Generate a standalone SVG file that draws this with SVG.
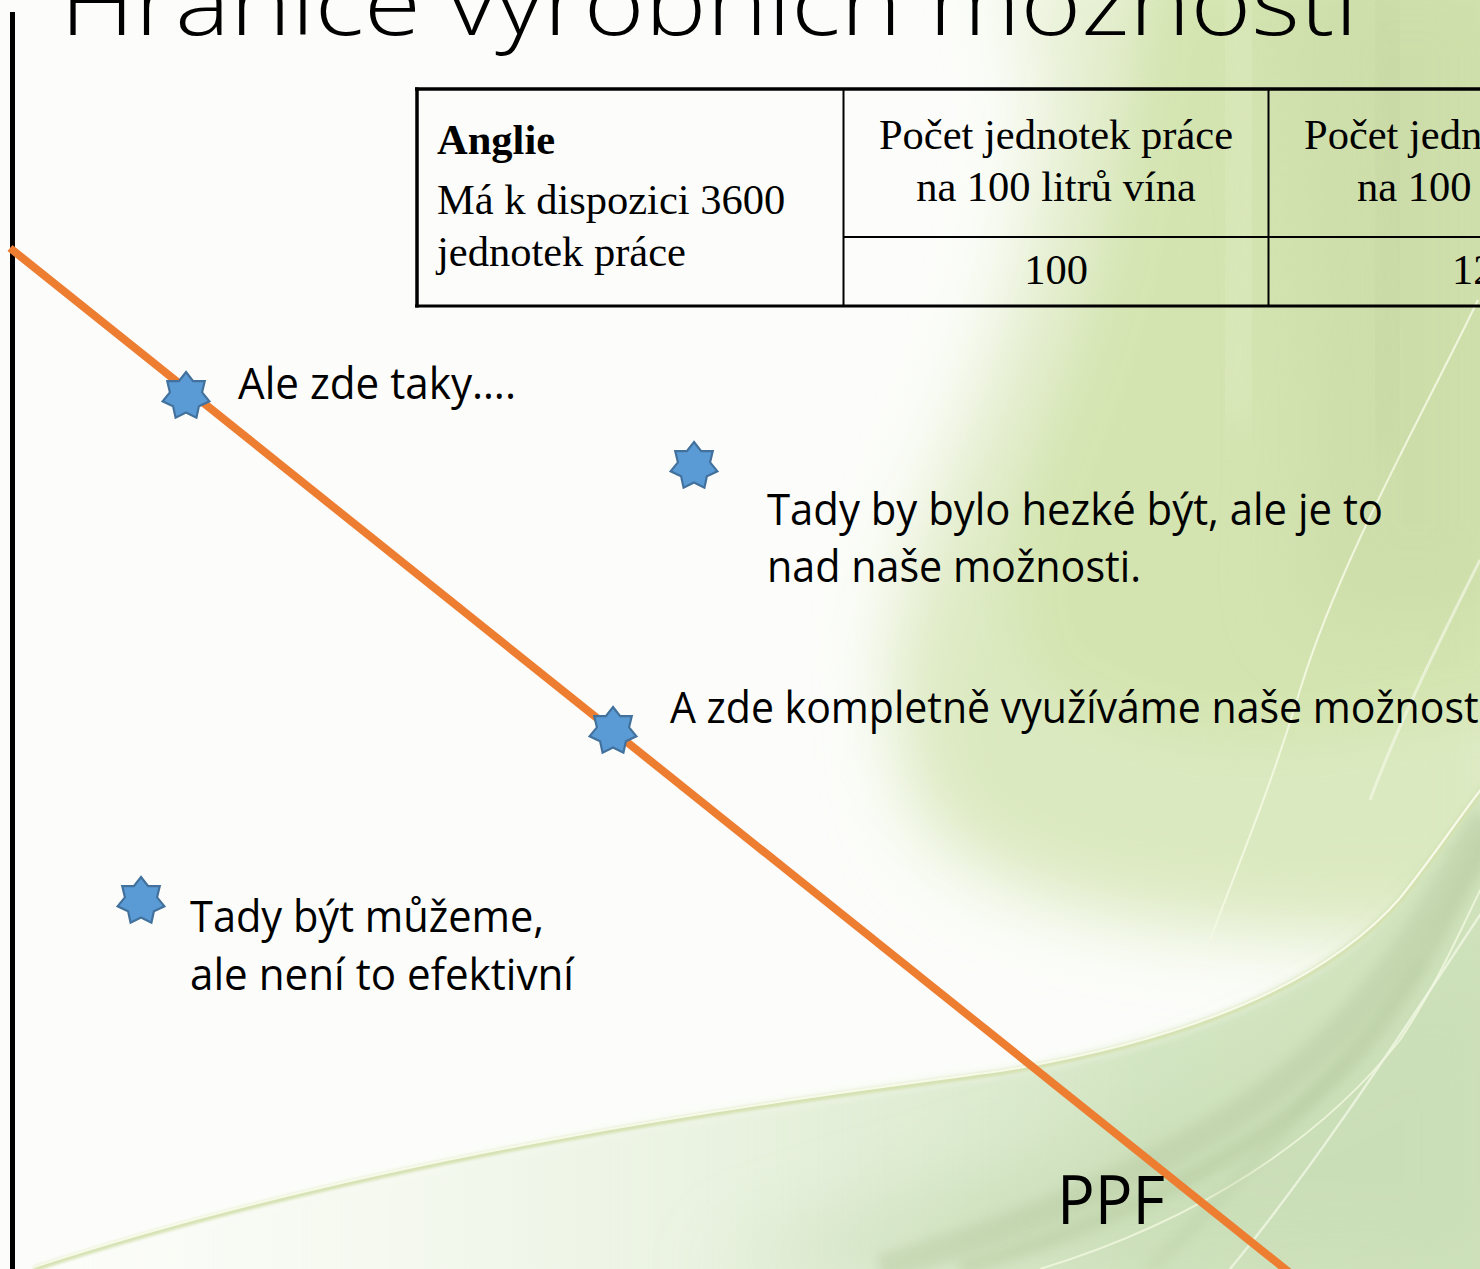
<svg xmlns="http://www.w3.org/2000/svg" xmlns:xlink="http://www.w3.org/1999/xlink" width="1480" height="1269" viewBox="0 0 1480 1269">
  <style>
    .title { font-family: "Open Sans", "Liberation Sans", sans-serif; font-weight: 300; font-size: 90px; fill: #000; }
    .tbl { font-family: "Liberation Serif", "Times New Roman", serif; font-size: 42.5px; fill: #000; }
    .tb { font-weight: bold; }
    .lbl { font-family: "Open Sans", "Liberation Sans", sans-serif; font-size: 44px; fill: #000; }
    .grid { stroke: #000; fill: none; }
    .star { fill: #5B9BD5; stroke: #41719C; stroke-width: 2.2; stroke-linejoin: miter; }
  </style>
  <defs>
    <filter id="blur40" x="-30%" y="-30%" width="160%" height="160%"><feGaussianBlur stdDeviation="40"/></filter>
    <filter id="blur20" x="-30%" y="-30%" width="160%" height="160%"><feGaussianBlur stdDeviation="20"/></filter>
    <filter id="blur6" x="-30%" y="-30%" width="160%" height="160%"><feGaussianBlur stdDeviation="6"/></filter>
    <filter id="blur2" x="-10%" y="-10%" width="120%" height="120%"><feGaussianBlur stdDeviation="1.5"/></filter>
    <linearGradient id="bottomG" x1="0" y1="0" x2="1" y2="0">
      <stop offset="0" stop-color="#eef5e4" stop-opacity="0"/>
      <stop offset="0.45" stop-color="#e2eed6" stop-opacity="0.7"/>
      <stop offset="0.75" stop-color="#d3e5c2" stop-opacity="1"/>
      <stop offset="1" stop-color="#cfe2bb" stop-opacity="1"/>
    </linearGradient>
    <polygon id="star7" points="0,-24 7.16,-14.87 18.76,-14.96 16.09,-3.67 23.4,5.34 12.9,10.29 10.41,21.62 0,16.5 -10.41,21.62 -12.9,10.29 -23.4,5.34 -16.09,-3.67 -18.76,-14.96 -7.16,-14.87"/>
  </defs>

  <!-- background -->
  <g id="background">
    <rect x="0" y="0" width="1480" height="1269" fill="#fcfdfa"/>
    <path d="M1000 -40 C1060 60 1040 200 980 380 C920 520 880 600 900 700 C960 850 1200 900 1520 900 L1520 -40 Z" fill="#e6efd2" filter="url(#blur40)"/>
    <path d="M1140 -40 C1110 200 1040 400 960 560 C900 690 890 780 940 840 C1050 930 1250 940 1520 930 L1520 -40 Z" fill="#dbe9c0" filter="url(#blur40)"/>
    <path d="M1150 -40 C1140 150 1110 300 1060 420 C1020 520 1000 600 1040 680 C1150 760 1300 760 1520 700 L1520 -40 Z" fill="#d3e4ae" filter="url(#blur20)" opacity="0.8"/>
    <path d="M1280 -40 C1300 200 1320 400 1300 620 L1520 620 L1520 -40 Z" fill="#c9daa6" filter="url(#blur40)" opacity="0.6"/>
    <path d="M34 1269 C400 1150 800 1100 1000 1073 C1200 1040 1330 980 1400 900 C1440 850 1465 810 1490 780 L1520 1300 L30 1300 Z" fill="url(#bottomG)" filter="url(#blur6)"/>
    <path d="M700 1269 C900 1200 1100 1150 1300 1060 C1400 1010 1460 950 1500 900 L1500 1280 Z" fill="#c7dcb5" filter="url(#blur40)" opacity="0.7"/>
    <!-- swirl bands -->
    <path d="M880 1269 C1080 1210 1240 1130 1330 1040 C1400 970 1445 890 1485 820" fill="none" stroke="#b7c9a0" stroke-width="28" opacity="0.45" filter="url(#blur6)"/>
    <path d="M960 1269 C1140 1215 1280 1140 1360 1050 C1420 980 1455 900 1490 840" fill="none" stroke="#b3c69a" stroke-width="16" opacity="0.45" filter="url(#blur6)"/>
    <path d="M1040 1269 C1200 1220 1320 1140 1400 1040 C1440 980 1465 920 1490 870" fill="none" stroke="#eef6dc" stroke-width="2" opacity="0.9"/>
    <path d="M1230 1269 C1320 1160 1410 1020 1490 900" fill="none" stroke="#f0f6e2" stroke-width="2.5" opacity="0.8"/>
    <path d="M1150 1269 C1250 1170 1350 1060 1420 960" fill="none" stroke="#b9cda2" stroke-width="12" opacity="0.4" filter="url(#blur6)"/>
    <!-- highlight curve -->
    <path d="M34 1269 C400 1150 800 1100 1000 1073 C1200 1040 1330 980 1400 900 C1440 850 1465 810 1490 780" fill="none" stroke="#d3e0ae" stroke-width="5" filter="url(#blur2)"/>
    <path d="M34 1267 C400 1148 800 1098 1000 1071 C1200 1038 1330 978 1400 898 C1440 848 1465 808 1490 778" fill="none" stroke="#f7fae8" stroke-width="2.2"/>
    <!-- upper streaks -->
    <path d="M1478 300 C1420 420 1340 560 1300 690 C1270 790 1240 860 1210 940" fill="none" stroke="#f4f8e2" stroke-width="2" opacity="0.9"/>
    <path d="M1480 560 C1440 640 1400 720 1370 800" fill="none" stroke="#f2f7e4" stroke-width="3" opacity="0.7"/>
    <path d="M1240 -10 C1250 150 1250 300 1230 420" fill="none" stroke="#e4efc8" stroke-width="30" opacity="0.6" filter="url(#blur20)"/>
    <path d="M1380 -10 C1400 150 1400 300 1380 450" fill="none" stroke="#bfd09e" stroke-width="40" opacity="0.35" filter="url(#blur20)"/>
  </g>

  <!-- title -->
  <g id="title">
    <text class="title" x="60" y="35" textLength="1298" lengthAdjust="spacingAndGlyphs">Hranice výrobních možností</text>
  </g>

  <!-- axis -->
  <g id="axis">
    <line x1="12.5" y1="12" x2="12.5" y2="1269" stroke="#000" stroke-width="5"/>
  </g>

  <!-- table -->
  <g id="table">
    <line class="grid" x1="415" y1="89" x2="1480" y2="89" stroke-width="3.5"/>
    <line class="grid" x1="415" y1="306" x2="1480" y2="306" stroke-width="3"/>
    <line class="grid" x1="417" y1="87.5" x2="417" y2="307.5" stroke-width="3.5"/>
    <line class="grid" x1="843.5" y1="89" x2="843.5" y2="306" stroke-width="2"/>
    <line class="grid" x1="1268.5" y1="89" x2="1268.5" y2="306" stroke-width="2"/>
    <line class="grid" x1="843" y1="237" x2="1480" y2="237" stroke-width="2"/>
    <text class="tbl tb" x="437" y="154">Anglie</text>
    <text class="tbl" x="437" y="214">Má k dispozici 3600</text>
    <text class="tbl" x="437" y="266">jednotek práce</text>
    <text class="tbl" x="1056" y="149" text-anchor="middle">Počet jednotek práce</text>
    <text class="tbl" x="1056" y="201" text-anchor="middle">na 100 litrů vína</text>
    <text class="tbl" x="1056" y="284" text-anchor="middle">100</text>
    <text class="tbl" x="1304" y="149">Počet jedn</text>
    <text class="tbl" x="1357" y="201">na 100</text>
    <text class="tbl" x="1452" y="284">12</text>
  </g>

  <!-- PPF line -->
  <g id="connectors">
    <line x1="10" y1="248" x2="1290" y2="1273" stroke="#ED7D31" stroke-width="8"/>
  </g>

  <!-- stars -->
  <g id="star-1"><use xlink:href="#star7" href="#star7" class="star" x="186" y="396"/></g>
  <g id="star-2"><use xlink:href="#star7" href="#star7" class="star" x="694" y="466"/></g>
  <g id="star-3"><use xlink:href="#star7" href="#star7" class="star" x="613" y="731"/></g>
  <g id="star-4"><use xlink:href="#star7" href="#star7" class="star" x="141" y="901"/></g>

  <!-- labels -->
  <g id="label-1"><text class="lbl" x="238" y="399" textLength="278" lengthAdjust="spacingAndGlyphs">Ale zde taky….</text></g>
  <g id="label-2">
    <text class="lbl" x="767" y="525" textLength="616" lengthAdjust="spacingAndGlyphs">Tady by bylo hezké být, ale je to</text>
    <text class="lbl" x="767" y="582" textLength="374" lengthAdjust="spacingAndGlyphs">nad naše možnosti.</text>
  </g>
  <g id="label-3"><text class="lbl" x="670" y="723" textLength="819" lengthAdjust="spacingAndGlyphs">A zde kompletně využíváme naše možnosti</text></g>
  <g id="label-4">
    <text class="lbl" x="190" y="932" textLength="354" lengthAdjust="spacingAndGlyphs">Tady být můžeme,</text>
    <text class="lbl" x="190" y="990" textLength="384" lengthAdjust="spacingAndGlyphs">ale není to efektivní</text>
  </g>
  <g id="label-ppf"><text class="lbl" x="1057" y="1224" style="font-size:68px" textLength="108" lengthAdjust="spacingAndGlyphs">PPF</text></g>
</svg>
